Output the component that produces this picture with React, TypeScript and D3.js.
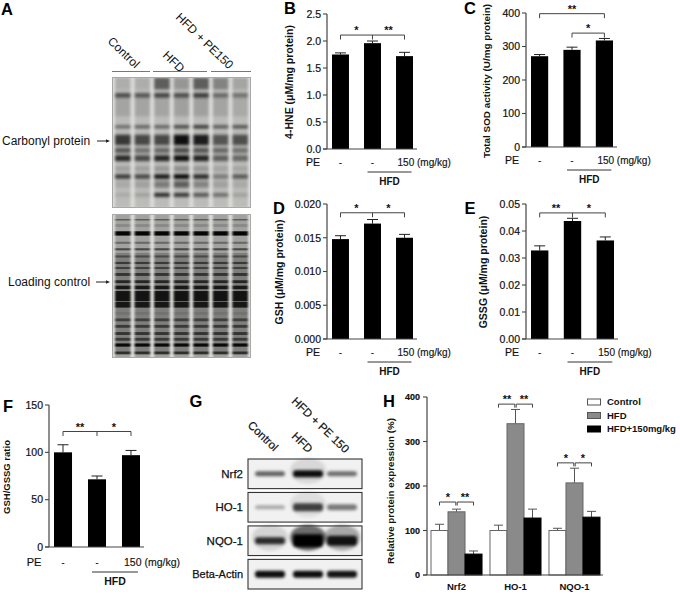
import React from 'react';
import * as d3 from 'd3';

const FONT = '"Liberation Sans", Arial, sans-serif';

// bar panels
const peGroups = ['control', 'hfd', 'hfdPe'];
const hneValues = [1.75, 1.96, 1.72];
const hneTops = [1.78, 2.0, 1.79];
const hneTicks = [0, 0.5, 1, 1.5, 2, 2.5];
const sodValues = [271, 290, 318];
const sodTops = [276, 298, 324];
const sodTicks = [0, 100, 200, 300, 400];
const gshValues = [0.0148, 0.0171, 0.015];
const gshTops = [0.0153, 0.0177, 0.0155];
const gshTicks = [0, 0.005, 0.01, 0.015, 0.02];
const gssgValues = [0.0328, 0.0437, 0.0365];
const gssgTops = [0.0345, 0.0447, 0.0378];
const gssgTicks = [0, 0.01, 0.02, 0.03, 0.04, 0.05];
const ratioValues = [100, 71.5, 97];
const ratioTops = [108, 75, 102];
const ratioTicks = [0, 50, 100, 150];

// panel H
const proteins = ['Nrf2', 'HO-1', 'NQO-1'];
const treatments = ['Control', 'HFD', 'HFD+150mg/kg'];
const treatmentColors = ['#ffffff', '#8a8a8a', '#000000'];
const expressionValues = [[100, 142, 47], [100, 340, 128], [100, 207, 130]];
const expressionTops = [[114, 148, 54], [112, 372, 148], [105, 240, 143]];
const expressionTicks = [0, 100, 200, 300, 400];
const expressionLevels = [164, 384, 252];
const expressionStars = [['*', '**'], ['**', '**'], ['*', '*']];

// blot A, top gel: band position (% of gel), thickness (%), darkness per lane
const carbonylPos = [5, 14, 23, 38, 48, 56, 62, 70, 76, 82, 90];
const carbonylThick = [9, 3.5, 14, 2.5, 8, 4, 4.5, 4, 3.5, 5, 3];
const carbonylLevels = [
  [0.08, 0.08, 0.5, 0.2, 0.5, 0.3, 0.12],
  [0.6, 0.55, 0.65, 0.6, 0.7, 0.45, 0.4],
  [0.12, 0.12, 0.12, 0.15, 0.15, 0.12, 0.1],
  [0.45, 0.5, 0.5, 0.65, 0.75, 0.55, 0.6],
  [0.7, 0.62, 0.62, 0.92, 0.85, 0.55, 0.58],
  [0.55, 0.4, 0.45, 0.6, 0.55, 0.45, 0.4],
  [0.78, 0.62, 0.8, 0.92, 0.82, 0.5, 0.45],
  [0.15, 0.15, 0.2, 0.25, 0.2, 0.12, 0.12],
  [0.68, 0.62, 0.88, 0.98, 0.78, 0.35, 0.52],
  [0.1, 0.15, 0.35, 0.5, 0.3, 0.15, 0.1],
  [0.1, 0.15, 0.78, 0.72, 0.55, 0.42, 0.15],
];

// blot A, bottom gel (the first entry is the smear under the dense region)
const loadingPos = [62, 4, 8, 13.5, 20, 24.5, 29.5, 34, 37.5, 42, 47, 51, 57, 63, 69, 73.5, 78, 83, 87, 91, 96.5];
const loadingThick = [70, 1, 2, 3, 1.5, 1.5, 1.5, 1.5, 1.5, 2, 2, 2.5, 7, 4, 2, 2, 2, 2, 2, 2.2, 2];
const loadingLevel = [0.22, 0.45, 0.15, 0.96, 0.35, 0.55, 0.42, 0.55, 0.5, 0.6, 0.7, 0.8, 0.85, 0.82, 0.1, 0.5, 0.55, 0.6, 0.55, 0.92, 0.65];
const laneNames = [0, 1, 2, 3, 4, 5, 6];

// panel G
const westernTargets = ['Nrf2', 'HO-1', 'NQO-1', 'Beta-Actin'];
const westernLanes = ['Control', 'HFD', 'HFD + PE 150'];
const westernLevels = [[0.6, 0.95, 0.55], [0.3, 0.72, 0.5], [0.8, 1, 0.9], [0.95, 0.95, 0.92]];
const westernThick = [[5, 7, 5], [4, 8, 6], [7, 13, 10], [7, 7, 7]];
const westernHalo = [[0, 0.1, 0], [0, 0.08, 0], [0.12, 0.55, 0.3], [0, 0, 0]];

const Bracket = ({ x1, x2, y, tick = 4.5, mid, color = '#444' }: any) => (
  <path
    d={`M${x1},${y + tick}V${y}H${x2}V${y + tick}` + (mid != null ? `M${mid},${y}V${y + tick}` : '')}
    fill="none"
    stroke={color}
    strokeWidth={1}
  />
);

const Stars = ({ x, y, label }: any) => (
  <text x={x} y={y} textAnchor="middle" fontSize={11} fontWeight={700} fontFamily={FONT} fill="#111">
    {label}
  </text>
);

const YAxis = ({ x, y, ticks, format, fontSize = 10.5, weight = 400, end }: any) => (
  <g fontFamily={FONT}>
    <line x1={x} x2={x} y1={y.range()[0]} y2={y.range()[1]} stroke="#444" strokeWidth={1.2} />
    {ticks.map((t: number) => (
      <g key={t}>
        <line x1={x - 4} x2={x} y1={y(t)} y2={y(t)} stroke="#444" strokeWidth={1.1} />
        <text x={end ?? x - 6} y={y(t)} dy="0.36em" textAnchor="end" fontSize={fontSize} fontWeight={weight} fill="#111" stroke="#111" strokeWidth={0.2}>
          {format(t)}
        </text>
      </g>
    ))}
  </g>
);

const BarPanel = ({
  axisX, axisEnd, barPad = 5, top, base, domainMax, ticks, format, values, tops, label, labelX, labelY, labelSize = 10.5,
  peX, peOff = 13, lineOff = 23, hfdOff = 32, fontSize = 10, brackets,
}: any) => {
  const x = d3.scaleBand().domain(peGroups).range([axisX + barPad, axisEnd - barPad + 1]).paddingInner(0.47);
  const y = d3.scaleLinear().domain([0, domainMax]).range([base, top]);
  const w = x.bandwidth();
  const cx = (i: number) => (x(peGroups[i]) as number) + w / 2;
  return (
    <g fontFamily={FONT}>
      {peGroups.map((g, i) => (
        <g key={g}>
          <path
            d={`M${cx(i) - 5.5},${y(tops[i])}H${cx(i) + 5.5}M${cx(i)},${y(tops[i])}V${y(values[i])}`}
            stroke="#222"
            strokeWidth={1}
            fill="none"
          />
          <rect x={x(g)} width={w} y={y(values[i])} height={base - y(values[i])} fill="#000" />
        </g>
      ))}
      <line x1={axisX - 4} x2={axisEnd} y1={base} y2={base} stroke="#444" strokeWidth={1.2} />
      <YAxis x={axisX} y={y} ticks={ticks} format={format} />
      <text transform={`translate(${labelX},${labelY}) rotate(-90)`} dy="0.36em" textAnchor="middle" fontSize={labelSize} fontWeight={700} fill="#111">
        {label}
      </text>
      {brackets.map((b: any, i: number) => (
        <g key={i}>
          <Bracket x1={cx(b.from)} x2={cx(b.to)} y={y(b.level)} mid={b.mid != null ? cx(b.mid) : undefined} />
          {b.stars.map((s: any, k: number) => (
            <Stars key={k} x={(cx(s.a) + cx(s.b)) / 2} y={y(b.level) - 1} label={s.label} />
          ))}
        </g>
      ))}
      <text x={peX} y={base + peOff} dy="0.36em" fontSize={fontSize + 0.5} textAnchor="middle" fill="#111" stroke="#111" strokeWidth={0.2}>PE</text>
      <text x={cx(0)} y={base + peOff} dy="0.36em" textAnchor="middle" fontSize={fontSize} fill="#111">-</text>
      <text x={cx(1)} y={base + peOff} dy="0.36em" textAnchor="middle" fontSize={fontSize} fill="#111">-</text>
      <text x={cx(2) - 7} y={base + peOff} dy="0.36em" fontSize={fontSize} fill="#111" stroke="#111" strokeWidth={0.15}>150 (mg/kg)</text>
      <line x1={cx(1) - 5} x2={cx(2) + 7} y1={base + lineOff} y2={base + lineOff} stroke="#333" strokeWidth={1} />
      <text x={(cx(1) + cx(2)) / 2 + 1} y={base + hfdOff} dy="0.36em" textAnchor="middle" fontSize={fontSize} fontWeight={700} fill="#111">HFD</text>
    </g>
  );
};

const Gel = ({ id, x0, x1, y0, y1, pos, thick, level, laneBase, filter }: any) => {
  const lane = d3.scaleBand<number>().domain(laneNames).range([x0 + 3, x1 - 3]).paddingInner(0.2);
  const y = d3.scaleLinear().domain([0, 100]).range([y0, y1]);
  const span = d3.scaleLinear().domain([0, 100]).range([0, y1 - y0]);
  return (
    <g clipPath={`url(#${id})`}>
      <clipPath id={id}>
        <rect x={x0} y={y0} width={x1 - x0} height={y1 - y0} />
      </clipPath>
      <rect x={x0} y={y0} width={x1 - x0} height={y1 - y0} fill="#dfdfdc" />
      <g filter={`url(#${filter})`}>
        {laneNames.map((l) => (
          <rect key={l} x={lane(l)} width={lane.bandwidth()} y={y(0)} height={y(100) - y(0)} fill="#000" opacity={laneBase} />
        ))}
        {pos.map((p: number, b: number) =>
          laneNames.map((l) => (
            <rect
              key={`${b}-${l}`}
              x={lane(l)}
              width={lane.bandwidth()}
              y={y(p) - span(thick[b]) / 2}
              height={span(thick[b])}
              fill="#000"
              opacity={typeof level[b] === 'number' ? level[b] : level[b][l]}
            />
          )),
        )}
      </g>
      <rect x={x0 + 0.5} y={y0 + 0.5} width={x1 - x0 - 1} height={y1 - y0 - 1} fill="none" stroke="#a8a8a8" strokeWidth={1} />
    </g>
  );
};

const RotLabel = ({ x, y, text, size = 12, heavy = 0 }: any) => (
  <text transform={`translate(${x},${y}) rotate(44)`} fontSize={size} fontFamily={FONT} fill="#111" stroke="#111" strokeWidth={heavy}>
    {text}
  </text>
);

const Letter = ({ x, y, t }: any) => (
  <text x={x} y={y} dy="0.36em" textAnchor="middle" fontSize={16.5} fontWeight={700} fontFamily={FONT} fill="#000">
    {t}
  </text>
);

const Arrow = ({ x1, x2, y }: any) => (
  <g>
    <line x1={x1} x2={x2 - 3} y1={y} y2={y} stroke="#222" strokeWidth={1} />
    <path d={`M${x2},${y}l-4,-1.8v3.6z`} fill="#222" />
  </g>
);

const Western = () => {
  const rows = d3.scaleBand().domain(westernTargets).range([459, 589]).paddingInner(0.115);
  const lanes = d3.scalePoint().domain(westernLanes).range([270, 342]);
  const lanePos = (l: string, i: number) => (lanes(l) as number) + (i === 1 ? 2 : 0);
  return (
    <g fontFamily={FONT}>
      {westernTargets.map((t, r) => {
        const top = rows(t) as number;
        const mid = top + rows.bandwidth() / 2;
        return (
          <g key={t}>
            <rect x={248} y={top} width={114} height={rows.bandwidth()} fill="#f1f1f1" />
            <g filter="url(#softer)">
              {westernLanes.map((l, i) => (
                <g key={l}>
                  {westernHalo[r][i] > 0 && (
                    <ellipse cx={lanePos(l, i)} cy={mid - 3} rx={18} ry={13} fill="#000" opacity={westernHalo[r][i]} />
                  )}
                  <rect
                    x={lanePos(l, i) - 15}
                    width={30}
                    y={mid - westernThick[r][i] / 2}
                    height={westernThick[r][i]}
                    rx={3}
                    fill="#000"
                    opacity={westernLevels[r][i]}
                  />
                </g>
              ))}
            </g>
            <rect x={248} y={top} width={114} height={rows.bandwidth()} fill="none" stroke="#333" strokeWidth={1.1} />
            <text x={243} y={mid} dy="0.36em" textAnchor="end" fontSize={t === 'Beta-Actin' ? 11 : 11.5} fill="#111" stroke="#111" strokeWidth={0.25}>
              {t}
            </text>
          </g>
        );
      })}
    </g>
  );
};

const Expression = () => {
  const base = 575;
  const y = d3.scaleLinear().domain([0, 400]).range([base, 397]);
  const x0 = d3.scaleBand().domain(proteins).range([431, 600]).paddingInner(0.135);
  const x1 = d3.scaleBand().domain(treatments).range([0, x0.bandwidth()]);
  const w = x1.bandwidth();
  return (
    <g fontFamily={FONT}>
      {proteins.map((p, i) => {
        const cx = (k: number) => (x0(p) as number) + (x1(treatments[k]) as number) + w / 2;
        return (
          <g key={p}>
            {treatments.map((t, k) => (
              <g key={t}>
                <path
                  d={`M${cx(k) - 4.5},${y(expressionTops[i][k])}H${cx(k) + 4.5}M${cx(k)},${y(expressionTops[i][k])}V${y(expressionValues[i][k])}`}
                  stroke="#555"
                  strokeWidth={1}
                  fill="none"
                />
                <rect
                  x={(x0(p) as number) + (x1(t) as number)}
                  width={w}
                  y={y(expressionValues[i][k])}
                  height={base - y(expressionValues[i][k])}
                  fill={treatmentColors[k]}
                  stroke={k === 2 ? '#000' : '#666'}
                  strokeWidth={1}
                />
              </g>
            ))}
            <Bracket x1={cx(0)} x2={cx(1) - 0.7} y={y(expressionLevels[i])} tick={3.5} />
            <Bracket x1={cx(1) + 0.7} x2={cx(2)} y={y(expressionLevels[i])} tick={3.5} />
            <Stars x={(cx(0) + cx(1)) / 2} y={y(expressionLevels[i]) - 1} label={expressionStars[i][0]} />
            <Stars x={(cx(1) + cx(2)) / 2} y={y(expressionLevels[i]) - 1} label={expressionStars[i][1]} />
            <text x={cx(1)} y={587} dy="0.36em" textAnchor="middle" fontSize={9.5} fontWeight={700} fill="#111">
              {p}
            </text>
          </g>
        );
      })}
      <line x1={423} x2={603} y1={base} y2={base} stroke="#444" strokeWidth={1.2} />
      <YAxis x={427} y={y} ticks={expressionTicks} format={d3.format('d')} fontSize={9} weight={700} end={420} />
      <text transform="translate(390,491) rotate(-90)" dy="0.36em" textAnchor="middle" fontSize={9.8} fontWeight={700} fill="#111">
        Relative protein expression (%)
      </text>
      {treatments.map((t, k) => (
        <g key={t}>
          <rect x={587.5} y={399 + k * 13.5} width={13} height={6} fill={treatmentColors[k]} stroke={k === 2 ? '#000' : '#555'} strokeWidth={1} />
          <text x={607} y={402 + k * 13.5} dy="0.36em" fontSize={9.5} fontWeight={700} fill="#111">
            {t}
          </text>
        </g>
      ))}
    </g>
  );
};

export default function App() {
  const fmt1 = d3.format('.1f');
  const fmt3 = d3.format('.3f');
  const fmt2 = d3.format('.2f');
  const fmt0 = d3.format('d');
  return (
    <svg width={680} height={595} style={{ position: 'absolute', left: 0, top: 0, background: '#fff' }}>
      <defs>
        <filter id="soft" x="-5%" y="-5%" width="110%" height="110%">
          <feGaussianBlur stdDeviation="1.8 1.6" />
        </filter>
        <filter id="stripes" x="-5%" y="-5%" width="110%" height="110%">
          <feGaussianBlur stdDeviation="1.3 0.7" />
        </filter>
        <filter id="softer" x="-30%" y="-60%" width="160%" height="220%">
          <feGaussianBlur stdDeviation="1.6" />
        </filter>
      </defs>

      <Letter x={7} y={9} t="A" />
      <Letter x={290} y={8} t="B" />
      <Letter x={470} y={8} t="C" />
      <Letter x={279} y={208} t="D" />
      <Letter x={470} y={208} t="E" />
      <Letter x={8} y={406} t="F" />
      <Letter x={196} y={401} t="G" />
      <Letter x={389} y={401} t="H" />

      <RotLabel x={107} y={42} text="Control" />
      <RotLabel x={162} y={56} text="HFD" />
      <RotLabel x={175} y={18} text="HFD + PE150" />
      <path d="M112,71.5H150M153,71.5H207M211,71.5H251" stroke="#777" strokeWidth={1} fill="none" />
      <Gel id="gel-top" x0={112} x1={251} y0={77} y1={208} pos={carbonylPos} thick={carbonylThick} level={carbonylLevels} laneBase={0.16} filter="soft" />
      <Gel id="gel-bottom" x0={112} x1={251} y0={214} y1={358} pos={loadingPos} thick={loadingThick} level={loadingLevel} laneBase={0.28} filter="stripes" />
      <text x={2} y={141} dy="0.36em" fontSize={12} fontFamily={FONT} fill="#111">Carbonyl protein</text>
      <Arrow x1={97} x2={110} y={141} />
      <text x={8} y={282} dy="0.36em" fontSize={12} fontFamily={FONT} fill="#111">Loading control</text>
      <Arrow x1={96} x2={110} y={282} />

      <BarPanel
        axisX={327} axisEnd={417} top={14} base={149} domainMax={2.5} ticks={hneTicks} format={fmt1}
        values={hneValues} tops={hneTops} label="4-HNE (μM/mg protein)" labelX={289} labelY={82} peX={313}
        brackets={[{ from: 0, to: 2, mid: 1, level: 2.11, stars: [{ a: 0, b: 1, label: '*' }, { a: 1, b: 2, label: '**' }] }]}
      />
      <BarPanel
        axisX={526} axisEnd={617} top={13} base={147} domainMax={400} ticks={sodTicks} format={fmt0}
        values={sodValues} tops={sodTops} label="Total SOD activity (U/mg protein)" labelX={486} labelY={81} labelSize={9.9} peX={512}
        brackets={[
          { from: 0, to: 2, level: 398, stars: [{ a: 0, b: 2, label: '**' }] },
          { from: 1, to: 2, level: 340, stars: [{ a: 1, b: 2, label: '*' }] },
        ]}
      />
      <BarPanel
        axisX={327} axisEnd={417} top={204} base={339} domainMax={0.02} ticks={gshTicks} format={fmt3}
        values={gshValues} tops={gshTops} label="GSH (μM/mg protein)" labelX={279} labelY={272} peX={313}
        brackets={[{ from: 0, to: 2, mid: 1, level: 0.0187, stars: [{ a: 0, b: 1, label: '*' }, { a: 1, b: 2, label: '*' }] }]}
      />
      <BarPanel
        axisX={526} axisEnd={618} top={204} base={339} domainMax={0.05} ticks={gssgTicks} format={fmt2}
        values={gssgValues} tops={gssgTops} label="GSSG (μM/mg protein)" labelX={483} labelY={272} peX={512}
        brackets={[{ from: 0, to: 2, mid: 1, level: 0.0467, stars: [{ a: 0, b: 1, label: '**' }, { a: 1, b: 2, label: '*' }] }]}
      />
      <BarPanel
        axisX={49} axisEnd={144} top={405} base={547} domainMax={150} ticks={ratioTicks} format={fmt0}
        values={ratioValues} tops={ratioTops} label="GSH/GSSG ratio" labelX={7} labelY={477} labelSize={9.5} peX={34}
        peOff={15} lineOff={25} hfdOff={34} fontSize={10.5}
        brackets={[{ from: 0, to: 2, mid: 1, level: 122, stars: [{ a: 0, b: 1, label: '**' }, { a: 1, b: 2, label: '*' }] }]}
      />

      <RotLabel x={247} y={426} text="Control" size={11.5} heavy={0.2} />
      <RotLabel x={291} y={437} text="HFD" size={11.5} heavy={0.2} />
      <RotLabel x={291} y={402} text="HFD + PE 150" size={11.5} heavy={0.2} />
      <Western />
      <Expression />
    </svg>
  );
}
